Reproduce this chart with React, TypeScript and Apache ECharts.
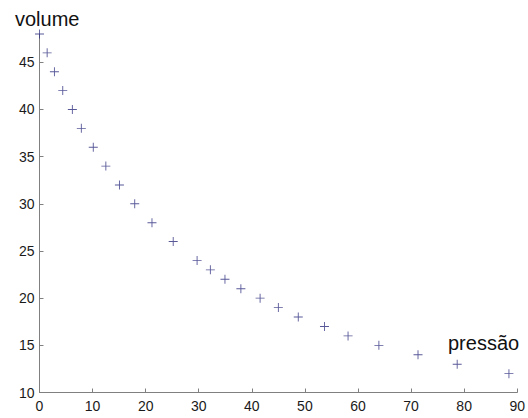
import React, { useEffect, useRef } from "react";
import * as echarts from "echarts";

const pressure = [0, 1.44, 2.81, 4.38, 6.19, 7.88, 10.13, 12.5, 15.06, 17.94, 21.19, 25.19, 29.69, 32.19, 34.94, 37.94, 41.56, 45, 48.75, 53.69, 58.13, 63.94, 71.31, 78.69, 88.44];
const volume = [48, 46, 44, 42, 40, 38, 36, 34, 32, 30, 28, 26, 24, 23, 22, 21, 20, 19, 18, 17, 16, 15, 14, 13, 12];
const yTicks = [10, 15, 20, 25, 30, 35, 40, 45];
const xTicks = [0, 10, 20, 30, 40, 50, 60, 70, 80, 90];
const yName = "volume";
const xName = "pressão";

export default function App() {
  const ref = useRef<HTMLDivElement>(null);
  useEffect(() => {
    if (!ref.current) return;
    const chart = echarts.init(ref.current, null, { renderer: "svg" });
    const font = "'Liberation Sans', Arial, sans-serif";
    const axisCommon = {
      axisLine: { show: true, lineStyle: { color: "#808080", width: 1 } },
      axisTick: { show: true, inside: true, length: 4, lineStyle: { color: "#808080" } },
      splitLine: { show: false },
    };
    chart.setOption({
      animation: false,
      backgroundColor: "#ffffff",
      grid: { left: 39.5, right: 9, top: 34, bottom: 25.5, containLabel: false },
      xAxis: {
        type: "value",
        min: 0,
        max: 90,
        interval: 10,
        ...axisCommon,
        axisTick: { ...axisCommon.axisTick, customValues: xTicks },
        axisLabel: {
          customValues: xTicks,
          color: "#1a1a1a",
          fontFamily: font,
          fontSize: 14,
          margin: 6,
        },
      },
      yAxis: {
        type: "value",
        min: 10,
        max: 48,
        ...axisCommon,
        axisTick: { ...axisCommon.axisTick, customValues: yTicks },
        axisLabel: {
          customValues: yTicks,
          color: "#1a1a1a",
          fontFamily: font,
          fontSize: 14,
          margin: 5,
        },
      },
      graphic: [
        {
          type: "text",
          x: 15,
          y: 18.5,
          style: { text: yName, fontFamily: font, fontSize: 20, fill: "#111", verticalAlign: "middle" },
        },
        {
          type: "text",
          x: 448,
          y: 342.5,
          style: { text: xName, fontFamily: font, fontSize: 20, fill: "#111", verticalAlign: "middle" },
        },
      ],
      series: [
        {
          type: "scatter",
          data: pressure.map((p, i) => [p, volume[i]]),
          symbol: "path://M4.5,0h1v10h-1zM0,4.5h10v1h-10z",
          symbolSize: 9,
          itemStyle: { color: "#2e2e80" },
        },
      ],
    });
    return () => chart.dispose();
  }, []);
  return <div ref={ref} style={{ position: "fixed", left: 0, top: 0, width: 528, height: 418 }} />;
}
